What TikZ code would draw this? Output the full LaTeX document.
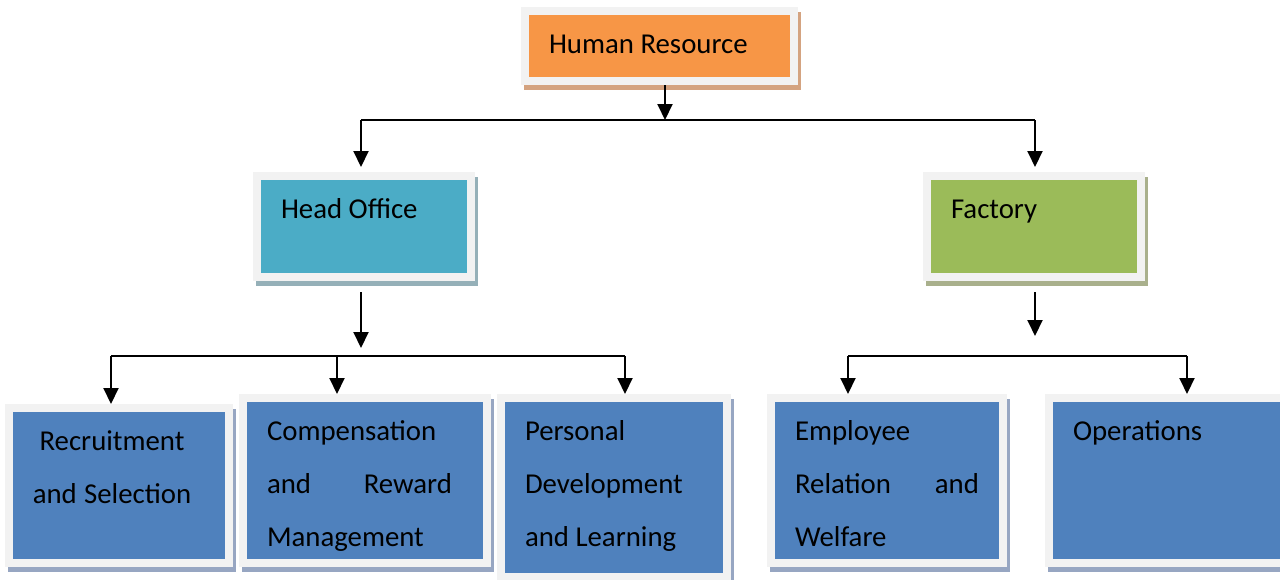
\documentclass[tikz,border=0pt]{standalone}
\usepackage{fontspec}
\setmainfont{Carlito}
\usetikzlibrary{arrows.meta,shadows}

\definecolor{framegray}{HTML}{F2F2F2}
\definecolor{hrfill}{HTML}{F79646}
\definecolor{hrshadow}{HTML}{D4A380}
\definecolor{hofill}{HTML}{4BACC6}
\definecolor{hoshadow}{HTML}{95B0B8}
\definecolor{fafill}{HTML}{9BBB59}
\definecolor{fashadow}{HTML}{A9B08C}
\definecolor{unitfill}{HTML}{4F81BD}
\definecolor{unitshadow}{HTML}{97A6C2}

\begin{document}
\begin{tikzpicture}
            [x=1pt,y=-1pt,
            >={Triangle[width=15pt,length=16pt]},
            font=\fontsize{28.8pt}{53pt}\selectfont,
            box/.style 2 args={draw=framegray,line width=8pt,anchor=north west,
                inner xsep=24pt,inner ysep=0pt,text width=#1,
                text height=42pt,text depth=#2,align=left,
                execute at begin node={\spaceskip=0pt\relax}},
            shadowed/.style={drop shadow={shadow xshift=3pt,shadow yshift=-5pt,
                fill=#1,draw=#1,opacity=1}},
            link/.style={->,line width=2pt},
            bus/.style={line width=2pt}]
            \useasboundingbox (0,0) rectangle (1280,579);

            % top level
            \node[box={221pt}{28pt},fill=hrfill,shadowed=hrshadow] (hr) at (521,7) {Human Resource};
            \node[box={166pt}{59pt},fill=hofill,shadowed=hoshadow] (ho) at (253,172) {Head Office};
            \node[box={166pt}{59pt},fill=fafill,shadowed=fashadow] (fa) at (923,172) {Factory};

            % head office units
            \node[box={172pt}{113pt},align=center,fill=unitfill,shadowed=unitshadow] (recr) at (5,404)
                {\hspace*{-14pt}Recruitment\\\hspace*{-14pt}and Selection};
            \node[box={196pt}{123pt},fill=unitfill,shadowed=unitshadow] (comp) at (239,394)
                {Compensation\\\makebox[185pt][s]{and Reward}\\Management};
            \node[box={178pt}{137pt},align=justify,fill=unitfill,shadowed=unitshadow] (pers) at (497,394)
                {Personal\linebreak Development\linebreak and Learning};

            % factory units
            \node[box={184pt}{123pt},align=justify,fill=unitfill,shadowed=unitshadow] (empl) at (767,394)
                {Employee\linebreak Relation and\linebreak Welfare};
            \node[box={191pt}{123pt},fill=unitfill,shadowed=unitshadow] (oper) at (1045,394) {Operations};

            % connectors
            \coordinate (top) at (665,120);
            \coordinate (topl) at (361,120);
            \coordinate (topr) at (1035,120);
            \draw[link] ([xshift=5.5pt]hr.south) -- (top);
            \draw[bus] (topl) -- (topr);
            \draw[link] (topl) -- ([yshift=5pt]topl |- ho.north);
            \draw[link] (topr) -- ([yshift=5pt]topr |- fa.north);

            \coordinate (hobus) at (361,356);
            \coordinate (hol) at (111,356);
            \coordinate (hom) at (337,356);
            \coordinate (hor) at (625,356);
            \draw[link,shorten <=11pt,shorten >=8pt] (ho.south -| hobus) -- (hobus);
            \draw[bus] (hol) -- (hor);
            \draw[link] (hol) -- (hol |- recr.north);
            \draw[link] (hom) -- (hom |- comp.north);
            \draw[link] (hor) -- (hor |- pers.north);

            \coordinate (fabus) at (1035,356);
            \coordinate (fal) at (848,356);
            \coordinate (far) at (1187,356);
            \draw[link,shorten <=11pt,shorten >=20pt] (fa.south -| fabus) -- (fabus);
            \draw[bus] (fal) -- (far);
            \draw[link] (fal) -- (fal |- empl.north);
            \draw[link] (far) -- (far |- oper.north);
        \end{tikzpicture}
\end{document}
